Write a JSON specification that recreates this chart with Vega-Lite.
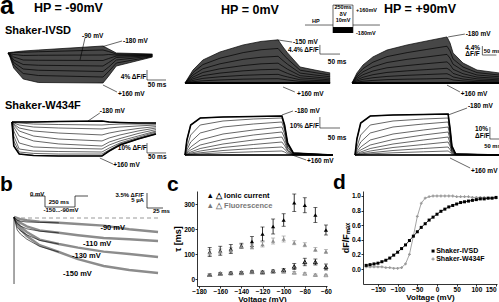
{
"$schema":"https://vega.github.io/schema/vega-lite/v6.json",
"padding":0,
"spacing":0,
"bounds":"full",
"config":{"view":{"stroke":null},"font":"Liberation Sans",
 "axis":{"domainColor":"black","tickColor":"black","labelColor":"black","titleColor":"black","labelFontSize":6.5,"labelFontWeight":"bold","titleFontSize":8,"titleFontWeight":"bold","tickSize":2,"labelPadding":0.5,"titlePadding":0,"grid":false,"domainWidth":0.8,"tickWidth":0.8}},
"datasets":{
"a1":[
{"k":"L1","t":0,"f":0},{"k":"L1","t":5,"f":0.2},{"k":"L1","t":15,"f":0.4},{"k":"L1","t":40,"f":0.8},{"k":"L1","t":80,"f":1.2},{"k":"L1","t":250,"f":2.8},{"k":"L1","t":265,"f":1.6},{"k":"L1","t":285,"f":0},{"k":"L1","t":380,"f":-0.4},
{"k":"L2","t":0,"f":0},{"k":"L2","t":5,"f":0.1},{"k":"L2","t":15,"f":0.2},{"k":"L2","t":40,"f":0.3},{"k":"L2","t":80,"f":0.5},{"k":"L2","t":250,"f":1.2},{"k":"L2","t":265,"f":0.6},{"k":"L2","t":285,"f":-0.4},{"k":"L2","t":380,"f":-0.6},
{"k":"L3","t":0,"f":0},{"k":"L3","t":5,"f":-0.2},{"k":"L3","t":15,"f":-0.6},{"k":"L3","t":40,"f":-1},{"k":"L3","t":80,"f":-0.9},{"k":"L3","t":250,"f":-0.8},{"k":"L3","t":265,"f":-0.6},{"k":"L3","t":285,"f":-0.8},{"k":"L3","t":380,"f":-0.8},
{"k":"L4","t":0,"f":0},{"k":"L4","t":5,"f":-0.4},{"k":"L4","t":15,"f":-1.6},{"k":"L4","t":40,"f":-2.8},{"k":"L4","t":80,"f":-2.9},{"k":"L4","t":250,"f":-3},{"k":"L4","t":265,"f":-2.2},{"k":"L4","t":285,"f":-1.2},{"k":"L4","t":380,"f":-0.9},
{"k":"L5","t":0,"f":0},{"k":"L5","t":5,"f":-0.6},{"k":"L5","t":15,"f":-2.8},{"k":"L5","t":40,"f":-4.6},{"k":"L5","t":80,"f":-4.9},{"k":"L5","t":250,"f":-5.2},{"k":"L5","t":265,"f":-3.8},{"k":"L5","t":285,"f":-1.8},{"k":"L5","t":380,"f":-1.1},
{"k":"L6","t":0,"f":0},{"k":"L6","t":5,"f":-0.9},{"k":"L6","t":15,"f":-3.8},{"k":"L6","t":40,"f":-6.4},{"k":"L6","t":80,"f":-6.9},{"k":"L6","t":250,"f":-7.4},{"k":"L6","t":265,"f":-5.6},{"k":"L6","t":285,"f":-2.8},{"k":"L6","t":380,"f":-1.2},
{"k":"L7","t":0,"f":0},{"k":"L7","t":5,"f":-1.2},{"k":"L7","t":15,"f":-4.8},{"k":"L7","t":40,"f":-8.2},{"k":"L7","t":80,"f":-9},{"k":"L7","t":250,"f":-9.6},{"k":"L7","t":265,"f":-7.4},{"k":"L7","t":285,"f":-4},{"k":"L7","t":380,"f":-1.4},
{"k":"L8","t":0,"f":0},{"k":"L8","t":5,"f":-1.6},{"k":"L8","t":15,"f":-6},{"k":"L8","t":40,"f":-10.4},{"k":"L8","t":80,"f":-11.8},{"k":"L8","t":250,"f":-12},{"k":"L8","t":265,"f":-9.2},{"k":"L8","t":285,"f":-5.2},{"k":"L8","t":380,"f":-1.6}
],
"a2":[
{"k":"T1","t":0,"f":0},{"k":"T1","t":5,"f":0},{"k":"T1","t":20,"f":0},{"k":"T1","t":60,"f":0},{"k":"T1","t":130,"f":0.4},{"k":"T1","t":250,"f":0.8},{"k":"T1","t":270,"f":0},{"k":"T1","t":300,"f":-0.4},{"k":"T1","t":350,"f":-0.8},{"k":"T1","t":400,"f":-0.8},
{"k":"T2","t":0,"f":0},{"k":"T2","t":5,"f":-0.4},{"k":"T2","t":20,"f":-0.8},{"k":"T2","t":60,"f":-1.7},{"k":"T2","t":130,"f":-2.1},{"k":"T2","t":250,"f":-2.5},{"k":"T2","t":270,"f":-2.1},{"k":"T2","t":300,"f":-1.7},{"k":"T2","t":350,"f":-1.7},{"k":"T2","t":400,"f":-1.7},
{"k":"T3","t":0,"f":0},{"k":"T3","t":5,"f":-0.8},{"k":"T3","t":20,"f":-2.5},{"k":"T3","t":60,"f":-4.2},{"k":"T3","t":130,"f":-5},{"k":"T3","t":250,"f":-5.8},{"k":"T3","t":270,"f":-5},{"k":"T3","t":300,"f":-4.2},{"k":"T3","t":350,"f":-3.3},{"k":"T3","t":400,"f":-2.5},
{"k":"T4","t":0,"f":0},{"k":"T4","t":5,"f":-1.7},{"k":"T4","t":20,"f":-5},{"k":"T4","t":60,"f":-7.5},{"k":"T4","t":130,"f":-9.2},{"k":"T4","t":250,"f":-10.8},{"k":"T4","t":270,"f":-9.2},{"k":"T4","t":300,"f":-7.5},{"k":"T4","t":350,"f":-5.4},{"k":"T4","t":400,"f":-3.8},
{"k":"T5","t":0,"f":0},{"k":"T5","t":5,"f":-2.5},{"k":"T5","t":20,"f":-7.5},{"k":"T5","t":60,"f":-11.7},{"k":"T5","t":130,"f":-14.2},{"k":"T5","t":250,"f":-15.8},{"k":"T5","t":270,"f":-13.3},{"k":"T5","t":300,"f":-10.8},{"k":"T5","t":350,"f":-7.5},{"k":"T5","t":400,"f":-5},
{"k":"T6","t":0,"f":0},{"k":"T6","t":5,"f":-4.2},{"k":"T6","t":20,"f":-11.7},{"k":"T6","t":60,"f":-15.8},{"k":"T6","t":130,"f":-18.3},{"k":"T6","t":250,"f":-20},{"k":"T6","t":270,"f":-16.7},{"k":"T6","t":300,"f":-13.8},{"k":"T6","t":350,"f":-9.6},{"k":"T6","t":400,"f":-6.3},
{"k":"T7","t":0,"f":0},{"k":"T7","t":5,"f":-7.5},{"k":"T7","t":20,"f":-17.5},{"k":"T7","t":60,"f":-20.8},{"k":"T7","t":130,"f":-21.7},{"k":"T7","t":250,"f":-22.5},{"k":"T7","t":270,"f":-19.2},{"k":"T7","t":300,"f":-15.8},{"k":"T7","t":350,"f":-11.7},{"k":"T7","t":400,"f":-7.5},
{"k":"T8","t":0,"f":0},{"k":"T8","t":5,"f":-11.7},{"k":"T8","t":20,"f":-22.5},{"k":"T8","t":60,"f":-24.2},{"k":"T8","t":130,"f":-24.6},{"k":"T8","t":250,"f":-25},{"k":"T8","t":270,"f":-21.7},{"k":"T8","t":300,"f":-17.5},{"k":"T8","t":350,"f":-12.9},{"k":"T8","t":400,"f":-8.3},
{"k":"T9","t":0,"f":0},{"k":"T9","t":5,"f":-15.8},{"k":"T9","t":20,"f":-25},{"k":"T9","t":60,"f":-26.2},{"k":"T9","t":130,"f":-26.7},{"k":"T9","t":250,"f":-26.7},{"k":"T9","t":270,"f":-23.3},{"k":"T9","t":300,"f":-18.3},{"k":"T9","t":350,"f":-13.8},{"k":"T9","t":400,"f":-9.2},
{"k":"T10","t":0,"f":0},{"k":"T10","t":5,"f":-20},{"k":"T10","t":20,"f":-26.7},{"k":"T10","t":60,"f":-27.9},{"k":"T10","t":130,"f":-28.3},{"k":"T10","t":250,"f":-28.3},{"k":"T10","t":270,"f":-24.2},{"k":"T10","t":300,"f":-19.2},{"k":"T10","t":350,"f":-14.2},{"k":"T10","t":400,"f":-10}
],
"a3":[
{"k":"L1","t":0,"f":0},{"k":"L1","t":21,"f":8.1},{"k":"L1","t":47,"f":14.4},{"k":"L1","t":92,"f":19.4},{"k":"L1","t":153,"f":23.8},{"k":"L1","t":200,"f":26},{"k":"L1","t":245,"f":27},{"k":"L1","t":258,"f":22.5},{"k":"L1","t":270,"f":18.8},{"k":"L1","t":303,"f":10},{"k":"L1","t":342,"f":8.1},{"k":"L1","t":382,"f":6.3},
{"k":"L2","t":0,"f":0},{"k":"L2","t":21,"f":6.5},{"k":"L2","t":47,"f":11.5},{"k":"L2","t":92,"f":15.5},{"k":"L2","t":153,"f":19},{"k":"L2","t":200,"f":20.8},{"k":"L2","t":245,"f":21.6},{"k":"L2","t":258,"f":18},{"k":"L2","t":270,"f":15},{"k":"L2","t":303,"f":8},{"k":"L2","t":342,"f":6.5},{"k":"L2","t":382,"f":5},
{"k":"L3","t":0,"f":0},{"k":"L3","t":21,"f":5},{"k":"L3","t":47,"f":8.9},{"k":"L3","t":92,"f":12},{"k":"L3","t":153,"f":14.8},{"k":"L3","t":200,"f":16.1},{"k":"L3","t":245,"f":16.7},{"k":"L3","t":258,"f":14},{"k":"L3","t":270,"f":11.7},{"k":"L3","t":303,"f":6.2},{"k":"L3","t":342,"f":5},{"k":"L3","t":382,"f":3.9},
{"k":"L4","t":0,"f":0},{"k":"L4","t":21,"f":3.7},{"k":"L4","t":47,"f":6.6},{"k":"L4","t":92,"f":8.9},{"k":"L4","t":153,"f":10.9},{"k":"L4","t":200,"f":12},{"k":"L4","t":245,"f":12.4},{"k":"L4","t":258,"f":10.4},{"k":"L4","t":270,"f":8.6},{"k":"L4","t":303,"f":4.6},{"k":"L4","t":342,"f":3.7},{"k":"L4","t":382,"f":2.9},
{"k":"L5","t":0,"f":0},{"k":"L5","t":21,"f":2.6},{"k":"L5","t":47,"f":4.6},{"k":"L5","t":92,"f":6.2},{"k":"L5","t":153,"f":7.6},{"k":"L5","t":200,"f":8.3},{"k":"L5","t":245,"f":8.6},{"k":"L5","t":258,"f":7.2},{"k":"L5","t":270,"f":6},{"k":"L5","t":303,"f":3.2},{"k":"L5","t":342,"f":2.6},{"k":"L5","t":382,"f":2},
{"k":"L6","t":0,"f":0},{"k":"L6","t":21,"f":1.6},{"k":"L6","t":47,"f":2.9},{"k":"L6","t":92,"f":3.9},{"k":"L6","t":153,"f":4.8},{"k":"L6","t":200,"f":5.2},{"k":"L6","t":245,"f":5.4},{"k":"L6","t":258,"f":4.5},{"k":"L6","t":270,"f":3.8},{"k":"L6","t":303,"f":2},{"k":"L6","t":342,"f":1.6},{"k":"L6","t":382,"f":1.3},
{"k":"L7","t":0,"f":0},{"k":"L7","t":21,"f":0.8},{"k":"L7","t":47,"f":1.4},{"k":"L7","t":92,"f":1.9},{"k":"L7","t":153,"f":2.4},{"k":"L7","t":200,"f":2.6},{"k":"L7","t":245,"f":2.7},{"k":"L7","t":258,"f":2.3},{"k":"L7","t":270,"f":1.9},{"k":"L7","t":303,"f":1},{"k":"L7","t":342,"f":0.8},{"k":"L7","t":382,"f":0.6},
{"k":"L8","t":0,"f":0},{"k":"L8","t":382,"f":0}
],
"a5":[
{"k":"L1","t":0,"f":0},{"k":"L1","t":13,"f":6.3},{"k":"L1","t":29,"f":11.3},{"k":"L1","t":55,"f":16.3},{"k":"L1","t":92,"f":20.6},{"k":"L1","t":145,"f":23.8},{"k":"L1","t":197,"f":26.3},{"k":"L1","t":250,"f":28.8},{"k":"L1","t":258,"f":25},{"k":"L1","t":266,"f":18.8},{"k":"L1","t":292,"f":12.5},{"k":"L1","t":329,"f":8.1},{"k":"L1","t":387,"f":6.3},
{"k":"L2","t":0,"f":0},{"k":"L2","t":13,"f":5},{"k":"L2","t":29,"f":9},{"k":"L2","t":55,"f":13},{"k":"L2","t":92,"f":16.5},{"k":"L2","t":145,"f":19},{"k":"L2","t":197,"f":21},{"k":"L2","t":250,"f":23},{"k":"L2","t":258,"f":20},{"k":"L2","t":266,"f":15},{"k":"L2","t":292,"f":10},{"k":"L2","t":329,"f":6.5},{"k":"L2","t":387,"f":5},
{"k":"L3","t":0,"f":0},{"k":"L3","t":13,"f":3.9},{"k":"L3","t":29,"f":7},{"k":"L3","t":55,"f":10.1},{"k":"L3","t":92,"f":12.8},{"k":"L3","t":145,"f":14.8},{"k":"L3","t":197,"f":16.3},{"k":"L3","t":250,"f":17.9},{"k":"L3","t":258,"f":15.5},{"k":"L3","t":266,"f":11.7},{"k":"L3","t":292,"f":7.8},{"k":"L3","t":329,"f":5},{"k":"L3","t":387,"f":3.9},
{"k":"L4","t":0,"f":0},{"k":"L4","t":13,"f":2.9},{"k":"L4","t":29,"f":5.2},{"k":"L4","t":55,"f":7.5},{"k":"L4","t":92,"f":9.5},{"k":"L4","t":145,"f":10.9},{"k":"L4","t":197,"f":12.1},{"k":"L4","t":250,"f":13.2},{"k":"L4","t":258,"f":11.5},{"k":"L4","t":266,"f":8.6},{"k":"L4","t":292,"f":5.8},{"k":"L4","t":329,"f":3.7},{"k":"L4","t":387,"f":2.9},
{"k":"L5","t":0,"f":0},{"k":"L5","t":13,"f":2},{"k":"L5","t":29,"f":3.6},{"k":"L5","t":55,"f":5.2},{"k":"L5","t":92,"f":6.6},{"k":"L5","t":145,"f":7.6},{"k":"L5","t":197,"f":8.4},{"k":"L5","t":250,"f":9.2},{"k":"L5","t":258,"f":8},{"k":"L5","t":266,"f":6},{"k":"L5","t":292,"f":4},{"k":"L5","t":329,"f":2.6},{"k":"L5","t":387,"f":2},
{"k":"L6","t":0,"f":0},{"k":"L6","t":13,"f":1.3},{"k":"L6","t":29,"f":2.3},{"k":"L6","t":55,"f":3.3},{"k":"L6","t":92,"f":4.1},{"k":"L6","t":145,"f":4.8},{"k":"L6","t":197,"f":5.3},{"k":"L6","t":250,"f":5.8},{"k":"L6","t":258,"f":5},{"k":"L6","t":266,"f":3.8},{"k":"L6","t":292,"f":2.5},{"k":"L6","t":329,"f":1.6},{"k":"L6","t":387,"f":1.3},
{"k":"L7","t":0,"f":0},{"k":"L7","t":13,"f":0.6},{"k":"L7","t":29,"f":1.1},{"k":"L7","t":55,"f":1.6},{"k":"L7","t":92,"f":2.1},{"k":"L7","t":145,"f":2.4},{"k":"L7","t":197,"f":2.6},{"k":"L7","t":250,"f":2.9},{"k":"L7","t":258,"f":2.5},{"k":"L7","t":266,"f":1.9},{"k":"L7","t":292,"f":1.3},{"k":"L7","t":329,"f":0.8},{"k":"L7","t":387,"f":0.6},
{"k":"L8","t":0,"f":0},{"k":"L8","t":387,"f":0}
],
"a4":[
{"k":"T1","t":0,"f":0},{"k":"T1","t":5,"f":15},{"k":"T1","t":15,"f":30},{"k":"T1","t":40,"f":37},{"k":"T1","t":100,"f":38},{"k":"T1","t":180,"f":38.5},{"k":"T1","t":255,"f":39},{"k":"T1","t":262,"f":30},{"k":"T1","t":270,"f":12},{"k":"T1","t":285,"f":2},{"k":"T1","t":389,"f":0},
{"k":"T2","t":0,"f":0},{"k":"T2","t":5,"f":8},{"k":"T2","t":15,"f":20},{"k":"T2","t":40,"f":30},{"k":"T2","t":100,"f":34},{"k":"T2","t":180,"f":36},{"k":"T2","t":255,"f":37},{"k":"T2","t":262,"f":28},{"k":"T2","t":270,"f":11},{"k":"T2","t":285,"f":2},{"k":"T2","t":389,"f":0},
{"k":"T3","t":0,"f":0},{"k":"T3","t":5,"f":5},{"k":"T3","t":15,"f":13},{"k":"T3","t":40,"f":22},{"k":"T3","t":100,"f":28},{"k":"T3","t":180,"f":31},{"k":"T3","t":255,"f":33},{"k":"T3","t":262,"f":25},{"k":"T3","t":270,"f":10},{"k":"T3","t":285,"f":1.5},{"k":"T3","t":389,"f":0},
{"k":"T4","t":0,"f":0},{"k":"T4","t":5,"f":3},{"k":"T4","t":15,"f":8},{"k":"T4","t":40,"f":15},{"k":"T4","t":100,"f":21},{"k":"T4","t":180,"f":25},{"k":"T4","t":255,"f":28},{"k":"T4","t":262,"f":21},{"k":"T4","t":270,"f":8},{"k":"T4","t":285,"f":1},{"k":"T4","t":389,"f":0},
{"k":"T5","t":0,"f":0},{"k":"T5","t":5,"f":2},{"k":"T5","t":15,"f":5},{"k":"T5","t":40,"f":10},{"k":"T5","t":100,"f":15.5},{"k":"T5","t":180,"f":20},{"k":"T5","t":255,"f":23},{"k":"T5","t":262,"f":17},{"k":"T5","t":270,"f":7},{"k":"T5","t":285,"f":1},{"k":"T5","t":389,"f":0},
{"k":"T6","t":0,"f":0},{"k":"T6","t":5,"f":1},{"k":"T6","t":15,"f":3},{"k":"T6","t":40,"f":6.5},{"k":"T6","t":100,"f":11},{"k":"T6","t":180,"f":15},{"k":"T6","t":255,"f":18},{"k":"T6","t":262,"f":13},{"k":"T6","t":270,"f":5},{"k":"T6","t":285,"f":0.5},{"k":"T6","t":389,"f":0},
{"k":"T7","t":0,"f":0},{"k":"T7","t":5,"f":0.6},{"k":"T7","t":15,"f":1.8},{"k":"T7","t":40,"f":4},{"k":"T7","t":100,"f":7.5},{"k":"T7","t":180,"f":10.5},{"k":"T7","t":255,"f":13},{"k":"T7","t":262,"f":9.5},{"k":"T7","t":270,"f":4},{"k":"T7","t":285,"f":0.5},{"k":"T7","t":389,"f":0},
{"k":"T8","t":0,"f":0},{"k":"T8","t":5,"f":0.3},{"k":"T8","t":15,"f":1},{"k":"T8","t":40,"f":2.2},{"k":"T8","t":100,"f":4.5},{"k":"T8","t":180,"f":6.5},{"k":"T8","t":255,"f":8},{"k":"T8","t":262,"f":6},{"k":"T8","t":270,"f":2.5},{"k":"T8","t":285,"f":0.3},{"k":"T8","t":389,"f":0},
{"k":"T9","t":0,"f":0},{"k":"T9","t":5,"f":0.2},{"k":"T9","t":15,"f":0.5},{"k":"T9","t":40,"f":1.1},{"k":"T9","t":100,"f":2.2},{"k":"T9","t":180,"f":3.2},{"k":"T9","t":255,"f":4},{"k":"T9","t":262,"f":3},{"k":"T9","t":270,"f":1.2},{"k":"T9","t":285,"f":0.2},{"k":"T9","t":389,"f":0},
{"k":"T10","t":0,"f":0},{"k":"T10","t":389,"f":0}
],
"a6":[
{"k":"T1","t":0,"f":0},{"k":"T1","t":5,"f":16},{"k":"T1","t":15,"f":32},{"k":"T1","t":40,"f":39},{"k":"T1","t":100,"f":40},{"k":"T1","t":180,"f":40.5},{"k":"T1","t":245,"f":41},{"k":"T1","t":250,"f":27},{"k":"T1","t":255,"f":9},{"k":"T1","t":265,"f":1},{"k":"T1","t":379,"f":0},
{"k":"T2","t":0,"f":0},{"k":"T2","t":5,"f":8},{"k":"T2","t":15,"f":20},{"k":"T2","t":40,"f":30},{"k":"T2","t":100,"f":34},{"k":"T2","t":180,"f":36},{"k":"T2","t":245,"f":37},{"k":"T2","t":250,"f":25},{"k":"T2","t":255,"f":8},{"k":"T2","t":265,"f":1},{"k":"T2","t":379,"f":0},
{"k":"T3","t":0,"f":0},{"k":"T3","t":5,"f":5},{"k":"T3","t":15,"f":13},{"k":"T3","t":40,"f":22},{"k":"T3","t":100,"f":28},{"k":"T3","t":180,"f":31},{"k":"T3","t":245,"f":33},{"k":"T3","t":250,"f":22},{"k":"T3","t":255,"f":7},{"k":"T3","t":265,"f":1},{"k":"T3","t":379,"f":0},
{"k":"T4","t":0,"f":0},{"k":"T4","t":5,"f":3},{"k":"T4","t":15,"f":8},{"k":"T4","t":40,"f":15},{"k":"T4","t":100,"f":21},{"k":"T4","t":180,"f":25},{"k":"T4","t":245,"f":28},{"k":"T4","t":250,"f":19},{"k":"T4","t":255,"f":6},{"k":"T4","t":265,"f":0.8},{"k":"T4","t":379,"f":0},
{"k":"T5","t":0,"f":0},{"k":"T5","t":5,"f":2},{"k":"T5","t":15,"f":5},{"k":"T5","t":40,"f":10},{"k":"T5","t":100,"f":15.5},{"k":"T5","t":180,"f":20},{"k":"T5","t":245,"f":23},{"k":"T5","t":250,"f":16},{"k":"T5","t":255,"f":5},{"k":"T5","t":265,"f":0.6},{"k":"T5","t":379,"f":0},
{"k":"T6","t":0,"f":0},{"k":"T6","t":5,"f":1},{"k":"T6","t":15,"f":3},{"k":"T6","t":40,"f":6.5},{"k":"T6","t":100,"f":11},{"k":"T6","t":180,"f":15},{"k":"T6","t":245,"f":18},{"k":"T6","t":250,"f":12},{"k":"T6","t":255,"f":4},{"k":"T6","t":265,"f":0.5},{"k":"T6","t":379,"f":0},
{"k":"T7","t":0,"f":0},{"k":"T7","t":5,"f":0.6},{"k":"T7","t":15,"f":1.8},{"k":"T7","t":40,"f":4},{"k":"T7","t":100,"f":7.5},{"k":"T7","t":180,"f":10.5},{"k":"T7","t":245,"f":13},{"k":"T7","t":250,"f":9},{"k":"T7","t":255,"f":3},{"k":"T7","t":265,"f":0.4},{"k":"T7","t":379,"f":0},
{"k":"T8","t":0,"f":0},{"k":"T8","t":5,"f":0.3},{"k":"T8","t":15,"f":1},{"k":"T8","t":40,"f":2.2},{"k":"T8","t":100,"f":4.5},{"k":"T8","t":180,"f":6.5},{"k":"T8","t":245,"f":8},{"k":"T8","t":250,"f":5.5},{"k":"T8","t":255,"f":2},{"k":"T8","t":265,"f":0.3},{"k":"T8","t":379,"f":0},
{"k":"T9","t":0,"f":0},{"k":"T9","t":5,"f":0.2},{"k":"T9","t":15,"f":0.5},{"k":"T9","t":40,"f":1.1},{"k":"T9","t":100,"f":2.2},{"k":"T9","t":180,"f":3.2},{"k":"T9","t":245,"f":4},{"k":"T9","t":250,"f":2.8},{"k":"T9","t":255,"f":1},{"k":"T9","t":265,"f":0.1},{"k":"T9","t":379,"f":0},
{"k":"T10","t":0,"f":0},{"k":"T10","t":379,"f":0}
],
"b":[
{"k":"-150","s":"F","t":0,"f":0.25},{"k":"-150","s":"F","t":10,"f":-2.8},{"k":"-150","s":"F","t":20,"f":-4.5},{"k":"-150","s":"F","t":40,"f":-6.8},{"k":"-150","s":"F","t":70,"f":-8.5},{"k":"-150","s":"F","t":100,"f":-10.3},{"k":"-150","s":"F","t":140,"f":-12},{"k":"-150","s":"F","t":180,"f":-13},{"k":"-150","s":"F","t":225,"f":-13.75},
{"k":"-130","s":"F","t":0,"f":0.25},{"k":"-130","s":"F","t":10,"f":-2.2},{"k":"-130","s":"F","t":20,"f":-3.5},{"k":"-130","s":"F","t":40,"f":-5.4},{"k":"-130","s":"F","t":70,"f":-6.5},{"k":"-130","s":"F","t":100,"f":-7.4},{"k":"-130","s":"F","t":140,"f":-8.4},{"k":"-130","s":"F","t":180,"f":-9},{"k":"-130","s":"F","t":225,"f":-9.75},
{"k":"-110","s":"F","t":0,"f":0.25},{"k":"-110","s":"F","t":10,"f":-1.2},{"k":"-110","s":"F","t":20,"f":-2.1},{"k":"-110","s":"F","t":40,"f":-3.1},{"k":"-110","s":"F","t":70,"f":-3.7},{"k":"-110","s":"F","t":100,"f":-4.3},{"k":"-110","s":"F","t":140,"f":-5},{"k":"-110","s":"F","t":180,"f":-5.3},{"k":"-110","s":"F","t":225,"f":-5.75},
{"k":"-90","s":"F","t":0,"f":0.25},{"k":"-90","s":"F","t":10,"f":-0.3},{"k":"-90","s":"F","t":20,"f":-0.55},{"k":"-90","s":"F","t":40,"f":-0.9},{"k":"-90","s":"F","t":70,"f":-1.2},{"k":"-90","s":"F","t":100,"f":-1.5},{"k":"-90","s":"F","t":140,"f":-1.9},{"k":"-90","s":"F","t":180,"f":-2.8},{"k":"-90","s":"F","t":225,"f":-3.5},
{"k":"-150","s":"I","t":0,"f":0.25},{"k":"-150","s":"I","t":5,"f":-3},{"k":"-150","s":"I","t":10,"f":-4},{"k":"-150","s":"I","t":20,"f":-5.3},{"k":"-150","s":"I","t":40,"f":-7.1},{"k":"-150","s":"I","t":70,"f":-8.5},
{"k":"-130","s":"I","t":0,"f":0.25},{"k":"-130","s":"I","t":5,"f":-2.3},{"k":"-130","s":"I","t":10,"f":-3.2},{"k":"-130","s":"I","t":20,"f":-4.2},{"k":"-130","s":"I","t":40,"f":-5.6},{"k":"-130","s":"I","t":70,"f":-6.5},
{"k":"-110","s":"I","t":0,"f":0.25},{"k":"-110","s":"I","t":5,"f":-1.4},{"k":"-110","s":"I","t":10,"f":-2},{"k":"-110","s":"I","t":20,"f":-2.7},{"k":"-110","s":"I","t":40,"f":-3.3},{"k":"-110","s":"I","t":70,"f":-3.7},
{"k":"-90","s":"I","t":0,"f":0.25},{"k":"-90","s":"I","t":5,"f":-0.6},{"k":"-90","s":"I","t":10,"f":-0.8},{"k":"-90","s":"I","t":20,"f":-1},{"k":"-90","s":"I","t":40,"f":-1.1},{"k":"-90","s":"I","t":70,"f":-1.2}
],
"c":[
{"v":-170,"tau":108,"err":18,"src":"Ionic current","comp":"slow"},{"v":-160,"tau":113,"err":18,"src":"Ionic current","comp":"slow"},{"v":-150,"tau":120,"err":18,"src":"Ionic current","comp":"slow"},{"v":-140,"tau":133,"err":10,"src":"Ionic current","comp":"slow"},{"v":-130,"tau":150,"err":20,"src":"Ionic current","comp":"slow"},{"v":-120,"tau":180,"err":28,"src":"Ionic current","comp":"slow"},{"v":-110,"tau":210,"err":30,"src":"Ionic current","comp":"slow"},{"v":-100,"tau":236,"err":25,"src":"Ionic current","comp":"slow"},{"v":-90,"tau":305,"err":35,"src":"Ionic current","comp":"slow"},{"v":-80,"tau":295,"err":30,"src":"Ionic current","comp":"slow"},{"v":-70,"tau":256,"err":30,"src":"Ionic current","comp":"slow"},{"v":-60,"tau":196,"err":20,"src":"Ionic current","comp":"slow"},
{"v":-170,"tau":105,"err":12,"src":"Fluorescence","comp":"slow"},{"v":-160,"tau":110,"err":10,"src":"Fluorescence","comp":"slow"},{"v":-150,"tau":115,"err":10,"src":"Fluorescence","comp":"slow"},{"v":-140,"tau":130,"err":8,"src":"Fluorescence","comp":"slow"},{"v":-130,"tau":128,"err":8,"src":"Fluorescence","comp":"slow"},{"v":-120,"tau":138,"err":10,"src":"Fluorescence","comp":"slow"},{"v":-110,"tau":152,"err":12,"src":"Fluorescence","comp":"slow"},{"v":-100,"tau":160,"err":12,"src":"Fluorescence","comp":"slow"},{"v":-90,"tau":145,"err":8,"src":"Fluorescence","comp":"slow"},{"v":-80,"tau":137,"err":8,"src":"Fluorescence","comp":"slow"},{"v":-70,"tau":118,"err":8,"src":"Fluorescence","comp":"slow"},{"v":-60,"tau":110,"err":8,"src":"Fluorescence","comp":"slow"},
{"v":-170,"tau":17,"err":3,"src":"Ionic current","comp":"fast"},{"v":-160,"tau":22,"err":3,"src":"Ionic current","comp":"fast"},{"v":-150,"tau":25,"err":3,"src":"Ionic current","comp":"fast"},{"v":-140,"tau":26,"err":3,"src":"Ionic current","comp":"fast"},{"v":-130,"tau":30,"err":3,"src":"Ionic current","comp":"fast"},{"v":-120,"tau":28,"err":4,"src":"Ionic current","comp":"fast"},{"v":-110,"tau":32,"err":4,"src":"Ionic current","comp":"fast"},{"v":-100,"tau":36,"err":5,"src":"Ionic current","comp":"fast"},{"v":-90,"tau":50,"err":12,"src":"Ionic current","comp":"fast"},{"v":-80,"tau":68,"err":15,"src":"Ionic current","comp":"fast"},{"v":-70,"tau":68,"err":12,"src":"Ionic current","comp":"fast"},{"v":-60,"tau":48,"err":12,"src":"Ionic current","comp":"fast"},
{"v":-170,"tau":17,"err":3,"src":"Fluorescence","comp":"fast"},{"v":-160,"tau":21,"err":3,"src":"Fluorescence","comp":"fast"},{"v":-150,"tau":23,"err":3,"src":"Fluorescence","comp":"fast"},{"v":-140,"tau":24,"err":3,"src":"Fluorescence","comp":"fast"},{"v":-130,"tau":28,"err":3,"src":"Fluorescence","comp":"fast"},{"v":-120,"tau":26,"err":3,"src":"Fluorescence","comp":"fast"},{"v":-110,"tau":30,"err":3,"src":"Fluorescence","comp":"fast"},{"v":-100,"tau":30,"err":4,"src":"Fluorescence","comp":"fast"},{"v":-90,"tau":26,"err":4,"src":"Fluorescence","comp":"fast"},{"v":-80,"tau":22,"err":3,"src":"Fluorescence","comp":"fast"},{"v":-70,"tau":17,"err":3,"src":"Fluorescence","comp":"fast"},{"v":-60,"tau":16,"err":3,"src":"Fluorescence","comp":"fast"}
],
"d":[
{"s":"IVSD","v":-180,"r":0.05},{"s":"IVSD","v":-170,"r":0.06},{"s":"IVSD","v":-160,"r":0.07},{"s":"IVSD","v":-150,"r":0.08},{"s":"IVSD","v":-140,"r":0.1},{"s":"IVSD","v":-130,"r":0.12},{"s":"IVSD","v":-120,"r":0.15},{"s":"IVSD","v":-110,"r":0.19},{"s":"IVSD","v":-100,"r":0.23},{"s":"IVSD","v":-90,"r":0.28},{"s":"IVSD","v":-80,"r":0.33},{"s":"IVSD","v":-70,"r":0.39},{"s":"IVSD","v":-60,"r":0.45},{"s":"IVSD","v":-50,"r":0.51},{"s":"IVSD","v":-40,"r":0.57},{"s":"IVSD","v":-30,"r":0.62},{"s":"IVSD","v":-20,"r":0.67},{"s":"IVSD","v":-10,"r":0.71},{"s":"IVSD","v":0,"r":0.75},{"s":"IVSD","v":10,"r":0.79},{"s":"IVSD","v":20,"r":0.82},{"s":"IVSD","v":30,"r":0.85},{"s":"IVSD","v":40,"r":0.87},{"s":"IVSD","v":50,"r":0.89},{"s":"IVSD","v":60,"r":0.91},{"s":"IVSD","v":70,"r":0.92},{"s":"IVSD","v":80,"r":0.93},{"s":"IVSD","v":90,"r":0.94},{"s":"IVSD","v":100,"r":0.95},{"s":"IVSD","v":110,"r":0.96},{"s":"IVSD","v":120,"r":0.96},{"s":"IVSD","v":130,"r":0.97},{"s":"IVSD","v":140,"r":0.97},{"s":"IVSD","v":150,"r":0.98},
{"s":"W434F","v":-180,"r":0.03},{"s":"W434F","v":-170,"r":0.03},{"s":"W434F","v":-160,"r":0.03},{"s":"W434F","v":-150,"r":0.03},{"s":"W434F","v":-140,"r":0.03},{"s":"W434F","v":-130,"r":0.02},{"s":"W434F","v":-120,"r":0.02},{"s":"W434F","v":-110,"r":0.01},{"s":"W434F","v":-100,"r":0.01},{"s":"W434F","v":-90,"r":0.02},{"s":"W434F","v":-80,"r":0.07},{"s":"W434F","v":-70,"r":0.2},{"s":"W434F","v":-60,"r":0.45},{"s":"W434F","v":-50,"r":0.72},{"s":"W434F","v":-40,"r":0.9},{"s":"W434F","v":-30,"r":0.97},{"s":"W434F","v":-20,"r":0.99},{"s":"W434F","v":-10,"r":1},{"s":"W434F","v":0,"r":1},{"s":"W434F","v":10,"r":1},{"s":"W434F","v":20,"r":1},{"s":"W434F","v":30,"r":1},{"s":"W434F","v":40,"r":1},{"s":"W434F","v":50,"r":0.99},{"s":"W434F","v":60,"r":0.99},{"s":"W434F","v":70,"r":0.99},{"s":"W434F","v":80,"r":0.99},{"s":"W434F","v":90,"r":0.98},{"s":"W434F","v":100,"r":0.98},{"s":"W434F","v":110,"r":0.98},{"s":"W434F","v":120,"r":0.98},{"s":"W434F","v":130,"r":0.97},{"s":"W434F","v":140,"r":0.97},{"s":"W434F","v":150,"r":0.97}
]
},
"vconcat":[
{"hconcat":[
 {"width":166,"height":97,
  "encoding":{"x":{"field":"t","type":"quantitative","scale":{"domain":[-21.05,415.8],"nice":false,"zero":false},"axis":null},"y":{"field":"f","type":"quantitative","scale":{"domain":[-17.6,21.2],"nice":false,"zero":false},"axis":null}},
  "layer":[
   {"data":{"values":[{"t":-21.05,"t2":415.8,"f":-17.6,"f2":21.2}]},"mark":{"type":"rect","opacity":0},"encoding":{"x2":{"field":"t2"},"y2":{"field":"f2"}}},
   {"data":{"name":"a1"},"transform":[{"pivot":"k","value":"f","groupby":["t"]}],"mark":{"type":"area","color":"#474747"},"encoding":{"y":{"field":"L1","type":"quantitative","scale":{"domain":[-17.6,21.2],"nice":false,"zero":false},"axis":null},"y2":{"field":"L8"}}},
   {"data":{"name":"a1"},"mark":{"type":"line","color":"black","strokeWidth":0.7},"encoding":{"detail":{"field":"k"}}},
   {"data":{"values":[{"t":202.6,"f":6,"t2":189.5,"f2":-2.8},{"t":250,"f":2.6,"t2":300,"f2":4.8},{"t":250,"f":-12.8,"t2":286.8,"f2":-15.6},{"t":365.8,"f":-6.8,"t2":365.8,"f2":-10.8},{"t":365.8,"f":-10.8,"t2":415.8,"f2":-10.8}]},"mark":{"type":"rule","color":"black","strokeWidth":0.6},"encoding":{"x2":{"field":"t2"},"y2":{"field":"f2"}}},
   {"data":{"values":[{"t":194.7,"f":6.8,"s":"-90 mV"},{"t":302.6,"f":4.8,"s":"-180 mV"},{"t":289.5,"f":-16.3,"s":"+160 mV"},{"t":297,"f":-9.6,"s":"4% ΔF/F"},{"t":368,"f":-12.8,"s":"50 ms"}]},"mark":{"type":"text","align":"left","baseline":"middle","fontSize":6.5,"fontWeight":"bold","color":"black"},"encoding":{"text":{"field":"s"}}},
   {"data":{"values":[{"t":-21,"f":15.6,"s":"a"}]},"mark":{"type":"text","align":"left","baseline":"alphabetic","fontSize":25,"fontWeight":"bold","color":"black","clip":true},"encoding":{"text":{"field":"s"}}},
   {"data":{"values":[{"t":159,"f":18,"s":"HP = -90mV"}]},"mark":{"type":"text","align":"center","baseline":"middle","fontSize":12.5,"fontWeight":"bold","color":"black"},"encoding":{"text":{"field":"s"}}},
   {"data":{"values":[{"t":-7.9,"f":8.8,"s":"Shaker-IVSD"}]},"mark":{"type":"text","align":"left","baseline":"middle","fontSize":11,"fontWeight":"bold","color":"black"},"encoding":{"text":{"field":"s"}}}
  ]},
 {"width":167,"height":97,
  "encoding":{"x":{"field":"t","type":"quantitative","scale":{"domain":[-50,389.5],"nice":false,"zero":false},"axis":null},"y":{"field":"f","type":"quantitative","scale":{"domain":[-8.75,51.9],"nice":false,"zero":false},"axis":null}},
  "layer":[
   {"data":{"name":"a3"},"transform":[{"filter":"datum.k=='L1'"}],"mark":{"type":"area","color":"#474747"},"encoding":{"y2":{"datum":0}}},
   {"data":{"name":"a3"},"mark":{"type":"line","color":"black","strokeWidth":0.7},"encoding":{"detail":{"field":"k"}}},
   {"data":{"name":"a3"},"transform":[{"filter":"datum.k=='L8'"}],"mark":{"type":"line","color":"black","strokeWidth":2}},
   {"data":{"values":[{"t":389.5,"f":35,"t2":442,"f2":31.25}]},"mark":{"type":"rect","color":"black"},"encoding":{"x2":{"field":"t2"},"y2":{"field":"f2"}}},
   {"data":{"values":[{"t":245,"f":26.9,"t2":282,"f2":25.6},{"t":289,"f":-5.6,"t2":258,"f2":-2.5},{"t":355,"f":23.8,"t2":355,"f2":18.1},{"t":355,"f":18.1,"t2":408,"f2":18.1},{"t":315.8,"f":36.25,"t2":389.5,"f2":36.25},{"t":442,"f":36.25,"t2":513,"f2":36.25},{"t":389.5,"f":48.75,"t2":389.5,"f2":31.25},{"t":389.5,"f":48.75,"t2":442,"f2":48.75},{"t":442,"f":48.75,"t2":442,"f2":31.25}]},"mark":{"type":"rule","color":"black","strokeWidth":0.6},"encoding":{"x2":{"field":"t2"},"y2":{"field":"f2"}}},
   {"data":{"values":[{"t":284,"f":25.6,"s":"-150 mV"},{"t":271,"f":20.6,"s":"4.4% ΔF/F"},{"t":376,"f":13.1,"s":"50 ms"},{"t":295,"f":-6.7,"s":"+160 mV"}]},"mark":{"type":"text","align":"left","baseline":"middle","fontSize":6.5,"fontWeight":"bold","color":"black"},"encoding":{"text":{"field":"s"}}},
   {"data":{"values":[{"t":334,"f":38.6,"s":"HP"},{"t":450,"f":45.6,"s":"+160mV"},{"t":450,"f":31.25,"s":"-180mV"}]},"mark":{"type":"text","align":"left","baseline":"middle","fontSize":5.5,"fontWeight":"bold","color":"black"},"encoding":{"text":{"field":"s"}}},
   {"data":{"values":[{"t":416,"f":47.5,"s":"250ms"},{"t":416,"f":43.3,"s":"δV"},{"t":416,"f":39.6,"s":"10mV"}]},"mark":{"type":"text","align":"center","baseline":"middle","fontSize":5.5,"fontWeight":"bold","color":"black"},"encoding":{"text":{"field":"s"}}},
   {"data":{"values":[{"t":171,"f":45.6,"s":"HP = 0mV"}]},"mark":{"type":"text","align":"center","baseline":"middle","fontSize":12.5,"fontWeight":"bold","color":"black"},"encoding":{"text":{"field":"s"}}}
  ]},
 {"width":166,"height":97,
  "encoding":{"x":{"field":"t","type":"quantitative","scale":{"domain":[-50,386.8],"nice":false,"zero":false},"axis":null},"y":{"field":"f","type":"quantitative","scale":{"domain":[-8.75,51.9],"nice":false,"zero":false},"axis":null}},
  "layer":[
   {"data":{"name":"a5"},"transform":[{"filter":"datum.k=='L1'"}],"mark":{"type":"area","color":"#474747"},"encoding":{"y2":{"datum":0}}},
   {"data":{"name":"a5"},"mark":{"type":"line","color":"black","strokeWidth":0.7},"encoding":{"detail":{"field":"k"}}},
   {"data":{"name":"a5"},"transform":[{"filter":"datum.k=='L8'"}],"mark":{"type":"line","color":"black","strokeWidth":2}},
   {"data":{"values":[{"t":253,"f":28.8,"t2":297,"f2":30.6},{"t":284,"f":-5.6,"t2":250,"f2":-1.3},{"t":343,"f":23.1,"t2":343,"f2":17.5},{"t":343,"f":17.5,"t2":380,"f2":17.5}]},"mark":{"type":"rule","color":"black","strokeWidth":0.6},"encoding":{"x2":{"field":"t2"},"y2":{"field":"f2"}}},
   {"data":{"values":[{"t":299,"f":30.6,"s":"-180 mV"},{"t":298,"f":21.9,"s":"4.4%"},{"t":298,"f":18.1,"s":"ΔF/F"},{"t":286,"f":-6.7,"s":"+160 mV"}]},"mark":{"type":"text","align":"left","baseline":"middle","fontSize":6.5,"fontWeight":"bold","color":"black"},"encoding":{"text":{"field":"s"}}},
   {"data":{"values":[{"t":347,"f":19.8,"s":"50 ms"}]},"mark":{"type":"text","align":"left","baseline":"middle","fontSize":5.8,"fontWeight":"bold","color":"black"},"encoding":{"text":{"field":"s"}}},
   {"data":{"values":[{"t":179,"f":46.3,"s":"HP = +90mV"}]},"mark":{"type":"text","align":"center","baseline":"middle","fontSize":12.5,"fontWeight":"bold","color":"black"},"encoding":{"text":{"field":"s"}}}
  ]}
 ],"spacing":0,"bounds":"flush"},
{"hconcat":[
 {"width":166,"height":93,
  "encoding":{"x":{"field":"t","type":"quantitative","scale":{"domain":[-33.3,427.8],"nice":false,"zero":false},"axis":null},"y":{"field":"f","type":"quantitative","scale":{"domain":[-57.5,20],"nice":false,"zero":false},"axis":null}},
  "layer":[
   {"data":{"values":[{"t":-33.3,"t2":427.8,"f":-57.5,"f2":20}]},"mark":{"type":"rect","opacity":0},"encoding":{"x2":{"field":"t2"},"y2":{"field":"f2"}}},
   {"data":{"name":"a2"},"mark":{"type":"line","color":"black","strokeWidth":0.6},"encoding":{"detail":{"field":"k"}}},
   {"data":{"name":"a2"},"transform":[{"filter":"datum.k=='T10' || datum.k=='T1'"}],"mark":{"type":"line","color":"black","strokeWidth":1.6},"encoding":{"detail":{"field":"k"}}},
   {"data":{"values":[{"t":244,"f":7.5,"t2":211,"f2":0.8},{"t":280.5,"f":-35,"t2":244,"f2":-30},{"t":375,"f":-17.5,"t2":375,"f2":-25.8},{"t":375,"f":-25.8,"t2":428,"f2":-25.8}]},"mark":{"type":"rule","color":"black","strokeWidth":0.6},"encoding":{"x2":{"field":"t2"},"y2":{"field":"f2"}}},
   {"data":{"values":[{"t":244,"f":9.2,"s":"-180 mV"},{"t":294,"f":-21.7,"s":"10% ΔF/F"},{"t":378,"f":-29.5,"s":"50 ms"},{"t":281,"f":-35.8,"s":"+160 mV"}]},"mark":{"type":"text","align":"left","baseline":"middle","fontSize":6.5,"fontWeight":"bold","color":"black"},"encoding":{"text":{"field":"s"}}},
   {"data":{"values":[{"t":-19.4,"f":13.3,"s":"Shaker-W434F"}]},"mark":{"type":"text","align":"left","baseline":"middle","fontSize":11,"fontWeight":"bold","color":"black"},"encoding":{"text":{"field":"s"}}},
   {"data":{"values":[{"t":-33.3,"f":-57.1,"s":"b"}]},"mark":{"type":"text","align":"left","baseline":"alphabetic","fontSize":21,"fontWeight":"bold","color":"black","clip":true},"encoding":{"text":{"field":"s"}}}
  ]},
 {"width":167,"height":93,
  "encoding":{"x":{"field":"t","type":"quantitative","scale":{"domain":[-50,389.5],"nice":false,"zero":false},"axis":null},"y":{"field":"f","type":"quantitative","scale":{"domain":[-36,57],"nice":false,"zero":false},"axis":null}},
  "layer":[
   {"data":{"name":"a4"},"mark":{"type":"line","color":"black","strokeWidth":0.6},"encoding":{"detail":{"field":"k"}}},
   {"data":{"name":"a4"},"transform":[{"filter":"datum.k=='T10' || datum.k=='T1'"}],"mark":{"type":"line","color":"black","strokeWidth":1.6},"encoding":{"detail":{"field":"k"}}},
   {"data":{"values":[{"t":255,"f":40,"t2":284,"f2":44},{"t":282,"f":0,"t2":319,"f2":-5},{"t":355,"f":38,"t2":355,"f2":27},{"t":355,"f":27,"t2":408,"f2":27}]},"mark":{"type":"rule","color":"black","strokeWidth":0.6},"encoding":{"x2":{"field":"t2"},"y2":{"field":"f2"}}},
   {"data":{"values":[{"t":289,"f":44,"s":"-180 mV"},{"t":276,"f":29,"s":"10% ΔF/F"},{"t":376,"f":17,"s":"50 ms"},{"t":321,"f":-6,"s":"+160 mV"}]},"mark":{"type":"text","align":"left","baseline":"middle","fontSize":6.5,"fontWeight":"bold","color":"black"},"encoding":{"text":{"field":"s"}}},
   {"data":{"values":[{"t":-47.4,"f":-35.5,"s":"c"}]},"mark":{"type":"text","align":"left","baseline":"alphabetic","fontSize":21,"fontWeight":"bold","color":"black","clip":true},"encoding":{"text":{"field":"s"}}}
  ]},
 {"width":166,"height":93,
  "encoding":{"x":{"field":"t","type":"quantitative","scale":{"domain":[-57.9,378.9],"nice":false,"zero":false},"axis":null},"y":{"field":"f","type":"quantitative","scale":{"domain":[-36,57],"nice":false,"zero":false},"axis":null}},
  "layer":[
   {"data":{"name":"a6"},"mark":{"type":"line","color":"black","strokeWidth":0.6},"encoding":{"detail":{"field":"k"}}},
   {"data":{"name":"a6"},"transform":[{"filter":"datum.k=='T10' || datum.k=='T1'"}],"mark":{"type":"line","color":"black","strokeWidth":1.6},"encoding":{"detail":{"field":"k"}}},
   {"data":{"values":[{"t":245,"f":40,"t2":295,"f2":47},{"t":250,"f":-3,"t2":303,"f2":-13},{"t":355,"f":28,"t2":355,"f2":16},{"t":355,"f":16,"t2":385,"f2":16}]},"mark":{"type":"rule","color":"black","strokeWidth":0.6},"encoding":{"x2":{"field":"t2"},"y2":{"field":"f2"}}},
   {"data":{"values":[{"t":316,"f":26,"s":"10%"},{"t":316,"f":19,"s":"ΔF/F"},{"t":297,"f":49,"s":"-180 mV"},{"t":305,"f":-16,"s":"+160 mV"}]},"mark":{"type":"text","align":"left","baseline":"middle","fontSize":6.5,"fontWeight":"bold","color":"black"},"encoding":{"text":{"field":"s"}}},
   {"data":{"values":[{"t":340,"f":9,"s":"50 ms"}]},"mark":{"type":"text","align":"left","baseline":"middle","fontSize":5.8,"fontWeight":"bold","color":"black"},"encoding":{"text":{"field":"s"}}},
   {"data":{"values":[{"t":-57.9,"f":-34,"s":"d"}]},"mark":{"type":"text","align":"left","baseline":"alphabetic","fontSize":21,"fontWeight":"bold","color":"black","clip":true},"encoding":{"text":{"field":"s"}}}
  ]}
 ],"spacing":0,"bounds":"flush"},
{"hconcat":[
 {"width":197,"height":112,
  "encoding":{"x":{"field":"t","type":"quantitative","scale":{"domain":[-21.9,285.9],"nice":false,"zero":false},"axis":null},"y":{"field":"f","type":"quantitative","scale":{"domain":[-21.25,6.75],"nice":false,"zero":false},"axis":null}},
  "layer":[
   {"data":{"values":[{"t":-21.9,"t2":285.9,"f":-21.25,"f2":6.75}]},"mark":{"type":"rect","opacity":0},"encoding":{"x2":{"field":"t2"},"y2":{"field":"f2"}}},
   {"data":{"values":[{"t":0,"f":0,"t2":225,"f2":0}]},"mark":{"type":"rule","color":"#999999","strokeWidth":1,"strokeDash":[4,3]},"encoding":{"x2":{"field":"t2"},"y2":{"field":"f2"}}},
   {"data":{"name":"b"},"transform":[{"filter":"datum.s=='F'"}],"mark":{"type":"line","color":"#8c8c8c","strokeWidth":2.4},"encoding":{"detail":{"field":"k"}}},
   {"data":{"name":"b"},"transform":[{"filter":"datum.s=='I'"}],"mark":{"type":"line","color":"black","strokeWidth":0.6},"encoding":{"detail":{"field":"k"}}},
   {"data":{"values":[{"t":0,"f":0.25,"t2":0,"f2":-16.5},{"t":25,"f":5.5,"t2":48.4,"f2":5.5},{"t":48.4,"f":5.5,"t2":48.4,"f2":2.75},{"t":48.4,"f":2.75,"t2":95.3,"f2":2.75},{"t":95.3,"f":2.75,"t2":95.3,"f2":5.5},{"t":95.3,"f":5.5,"t2":115.6,"f2":5.5},{"t":207.8,"f":6.25,"t2":207.8,"f2":2.5},{"t":207.8,"f":2.5,"t2":232.8,"f2":2.5}]},"mark":{"type":"rule","color":"black","strokeWidth":0.7},"encoding":{"x2":{"field":"t2"},"y2":{"field":"f2"}}},
   {"data":{"values":[{"t":135,"f":-2.6,"s":"-90 mV"},{"t":107.8,"f":-6.4,"s":"-110 mV"},{"t":90.6,"f":-9.6,"s":"-130 mV"},{"t":76.6,"f":-14,"s":"-150 mV"}]},"mark":{"type":"text","align":"left","baseline":"middle","fontSize":7.5,"fontWeight":"bold","color":"black"},"encoding":{"text":{"field":"s"}}},
   {"data":{"values":[{"t":25,"f":6.0,"s":"0 mV"},{"t":217,"f":1.8,"s":"25 ms"}]},"mark":{"type":"text","align":"left","baseline":"middle","fontSize":6,"fontWeight":"bold","color":"black"},"encoding":{"text":{"field":"s"}}},
   {"data":{"values":[{"t":70,"f":3.9,"s":"250 ms"},{"t":73.4,"f":1.9,"s":"-150...-90mV"}]},"mark":{"type":"text","align":"center","baseline":"middle","fontSize":6,"fontWeight":"bold","color":"black"},"encoding":{"text":{"field":"s"}}},
   {"data":{"values":[{"t":203,"f":5.8,"s":"3.5% ΔF/F"},{"t":203,"f":4.4,"s":"5 µA"}]},"mark":{"type":"text","align":"right","baseline":"middle","fontSize":6,"fontWeight":"bold","color":"black"},"encoding":{"text":{"field":"s"}}}
  ]},
 {"hconcat":[
  {"width":130,"height":95,
   "data":{"name":"c"},
   "encoding":{"x":{"field":"v","type":"quantitative","scale":{"domain":[-182,-59],"nice":false,"zero":false},"axis":{"values":[-180,-160,-140,-120,-100,-80,-60],"title":"Voltage (mV)"}},
    "y":{"field":"tau","type":"quantitative","scale":{"domain":[-28,352],"nice":false,"zero":false},"axis":{"values":[0,100,200,300],"title":"τ [ms]","titleFontSize":9,"titlePadding":1}},
    "color":{"field":"src","type":"nominal","scale":{"domain":["Ionic current","Fluorescence"],"range":["black","#8c8c8c"]},"legend":null}},
   "layer":[
    {"mark":{"type":"errorbar","ticks":{"size":4},"thickness":0.8},"encoding":{"yError":{"field":"err"}}},
    {"transform":[{"filter":"datum.comp=='slow'"}],"mark":{"type":"point","shape":"triangle-up","filled":true,"size":18,"opacity":1}},
    {"transform":[{"filter":"datum.comp=='fast'"}],"mark":{"type":"point","shape":"triangle-up","filled":false,"size":16,"strokeWidth":0.9,"opacity":1}},
    {"data":{"values":[{"v":-173,"tau":332,"s":"▲ △  Ionic current"}]},"mark":{"type":"text","align":"left","baseline":"middle","fontSize":7.5,"fontWeight":"bold"},"encoding":{"text":{"field":"s"},"color":{"value":"black"}}},
    {"data":{"values":[{"v":-173,"tau":292,"s":"▲ △  Fluorescence"}]},"mark":{"type":"text","align":"left","baseline":"middle","fontSize":7.5,"fontWeight":"bold"},"encoding":{"text":{"field":"s"},"color":{"value":"#777777"}}}
   ]},
  {"width":134,"height":93,
   "data":{"name":"d"},
   "encoding":{"x":{"field":"v","type":"quantitative","scale":{"domain":[-188,152.5],"nice":false,"zero":false},"axis":{"values":[-150,-100,-50,0,50,100,150],"title":"Voltage (mV)"}},
    "y":{"field":"r","type":"quantitative","scale":{"domain":[-0.205,1.068],"nice":false,"zero":false},"axis":{"values":[0,0.2,0.4,0.6,0.8,1],"format":".1f","title":"dF/Fₘₐₓ","titleFontSize":9,"titlePadding":1}}},
   "layer":[
    {"transform":[{"filter":"datum.s=='W434F'"}],"mark":{"type":"line","color":"#999999","strokeWidth":0.9}},
    {"transform":[{"filter":"datum.s=='W434F'"}],"mark":{"type":"point","shape":"cross","color":"#999999","size":8,"filled":true,"opacity":1}},
    {"transform":[{"filter":"datum.s=='IVSD'"}],"mark":{"type":"line","color":"black","strokeWidth":0.8}},
    {"transform":[{"filter":"datum.s=='IVSD'"}],"mark":{"type":"square","color":"black","size":9,"opacity":1}},
    {"data":{"values":[{"v":-10,"r":0.246}]},"mark":{"type":"square","color":"black","size":9,"opacity":1}},
    {"data":{"values":[{"v":-10,"r":0.137}]},"mark":{"type":"point","shape":"cross","color":"#999999","size":10,"filled":true,"opacity":1}},
    {"data":{"values":[{"v":-2,"r":0.246,"s":"Shaker-IVSD"},{"v":-2,"r":0.137,"s":"Shaker-W434F"}]},"mark":{"type":"text","align":"left","baseline":"middle","fontSize":7,"fontWeight":"bold","color":"black"},"encoding":{"text":{"field":"s"}}}
   ]}
 ],"spacing":36,"bounds":"flush"}
 ],"spacing":0,"bounds":"flush"}
]
}
